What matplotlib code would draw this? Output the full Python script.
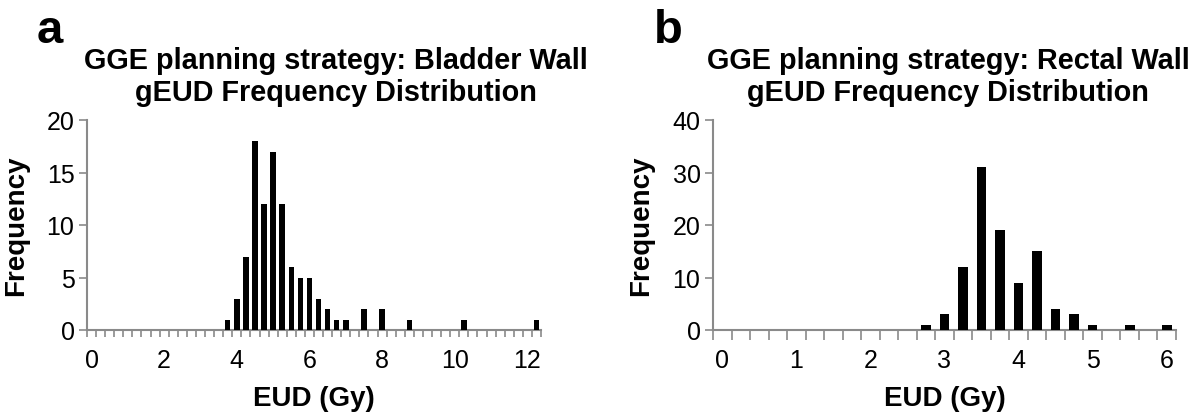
import matplotlib
matplotlib.use("Agg")
import matplotlib.pyplot as plt
import numpy as np
from matplotlib.ticker import FixedLocator

plt.rcParams['font.family'] = ['Liberation Sans', 'DejaVu Sans']

# ---- data ----
bladder_bins = [round(0.25 * i, 2) for i in range(50)]          # 0 .. 12.25
bladder_nonzero = {3.75: 1, 4.0: 3, 4.25: 7, 4.5: 18, 4.75: 12, 5.0: 17,
                   5.25: 12, 5.5: 6, 5.75: 5, 6.0: 5, 6.25: 3, 6.5: 2,
                   6.75: 1, 7.0: 1, 7.5: 2, 8.0: 2, 8.75: 1, 10.25: 1, 12.25: 1}
bladder_freq = [bladder_nonzero.get(b, 0) for b in bladder_bins]

rectal_bins = [round(0.25 * i, 2) for i in range(25)]            # 0 .. 6.0
rectal_nonzero = {2.75: 1, 3.0: 3, 3.25: 12, 3.5: 31, 3.75: 19, 4.0: 9,
                  4.25: 15, 4.5: 4, 4.75: 3, 5.0: 1, 5.5: 1, 6.0: 1}
rectal_freq = [rectal_nonzero.get(b, 0) for b in rectal_bins]

bladder_xticks = [0, 2, 4, 6, 8, 10, 12]
bladder_yticks = [0, 5, 10, 15, 20]
rectal_xticks = [0, 1, 2, 3, 4, 5, 6]
rectal_yticks = [0, 10, 20, 30, 40]

titles = ["GGE planning strategy: Bladder Wall\ngEUD Frequency Distribution",
          "GGE planning strategy: Rectal Wall\ngEUD Frequency Distribution"]
xlabel = "EUD (Gy)"
ylabel = "Frequency"
panel_labels = ["a", "b"]

W, H = 1200, 414
fig = plt.figure(figsize=(W / 100, H / 100), dpi=100)

gray = "#8a8a8a"

def px_axes(x0, x1, y0, y1):
    return fig.add_axes([x0 / W, (H - y1) / H, (x1 - x0) / W, (y1 - y0) / H])

def style(ax, bins, freq, xticks, yticks, barw, ticklen, ylab_x):
    step = 0.25
    ax.bar(bins, freq, width=barw, color="black", zorder=3)
    ax.set_xlim(bins[0] - step / 2, bins[-1] + step / 2)
    ax.set_ylim(yticks[0], yticks[-1])
    for s in ["top", "right"]:
        ax.spines[s].set_visible(False)
    for s in ["left", "bottom"]:
        ax.spines[s].set_color(gray)
        ax.spines[s].set_linewidth(1.5)
    ax.set_xticks(xticks)
    ax.set_xticklabels([str(t) for t in xticks])
    ax.xaxis.set_minor_locator(FixedLocator(np.arange(len(bins) + 1) * step - step / 2))
    ax.tick_params(axis="x", which="major", length=0, pad=13, labelsize=18)
    ax.tick_params(axis="x", which="minor", length=ticklen, width=1.2, color=gray, direction="out")
    ax.set_yticks(yticks)
    ax.tick_params(axis="y", which="major", length=6, width=1.2, color=gray, pad=3, labelsize=18)
    ax.set_xlabel(xlabel, fontsize=20, fontweight="bold", va="center")
    ax.xaxis.set_label_coords(0.5, (331 - 399) / 210)
    ax.set_ylabel(ylabel, fontsize=20, fontweight="bold", va="center")
    ax.yaxis.set_label_coords(ylab_x, 0.5)

ax1 = px_axes(87, 541, 121, 331)
style(ax1, bladder_bins, bladder_freq, bladder_xticks, bladder_yticks, 0.15, 5,
      (16 - 87) / 454)

ax2 = px_axes(713, 1176, 121, 331)
style(ax2, rectal_bins, rectal_freq, rectal_xticks, rectal_yticks, 0.13, 7,
      (641 - 713) / 463)

fig.text(336 / W, 1 - 77 / H, titles[0], ha="center", va="center",
         fontsize=20.8, fontweight="bold", linespacing=1.2)
fig.text(948 / W, 1 - 77 / H, titles[1], ha="center", va="center",
         fontsize=20.8, fontweight="bold", linespacing=1.2)

fig.text(37 / W, 1 - 43 / H, panel_labels[0], ha="left", va="baseline",
         fontsize=34, fontweight="bold")
fig.text(654 / W, 1 - 43 / H, panel_labels[1], ha="left", va="baseline",
         fontsize=34, fontweight="bold")

fig.savefig("out.png", dpi=100)
